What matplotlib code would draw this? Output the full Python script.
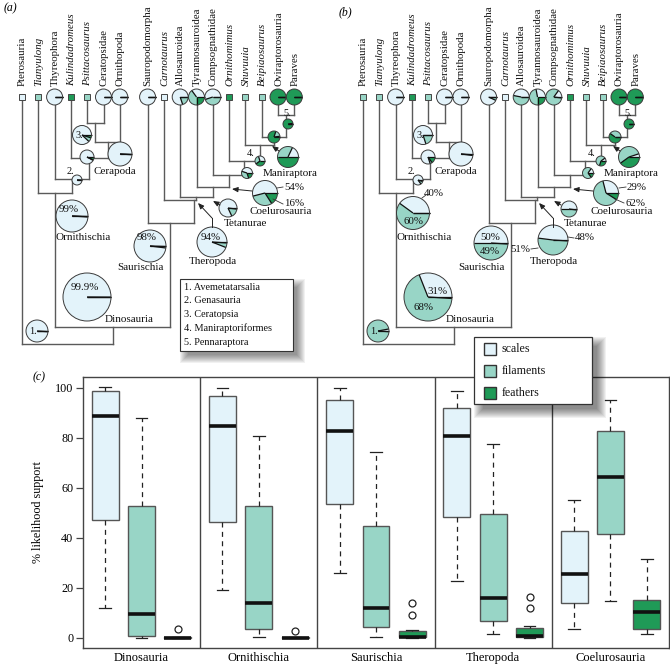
import numpy as np
import matplotlib
matplotlib.use('Agg')
import matplotlib.pyplot as plt
from matplotlib.patches import Wedge, Rectangle, Circle

plt.rcParams['font.family'] = ['Liberation Serif', 'DejaVu Serif']

# ---------------- data ----------------
taxa = ['Pterosauria', 'Tianyulong', 'Thyreophora', 'Kulindadromeus', 'Psittacosaurus',
        'Ceratopsidae', 'Ornithopoda', 'Sauropodomorpha', 'Carnotaurus', 'Allosauroidea',
        'Tyrannosauroidea', 'Compsognathidae', 'Ornithomimus', 'Shuvuuia', 'Beipiaosaurus',
        'Oviraptorosauria', 'Paraves']
italic_taxa = ['Tianyulong', 'Kulindadromeus', 'Psittacosaurus', 'Carnotaurus',
               'Ornithomimus', 'Shuvuuia', 'Beipiaosaurus']
# coded tip state: 0 scales, 1 filaments, 2 feathers, -1 estimated (pie)
tip_state_a = [0, 1, -1, 2, 1, -1, -1, -1, 0, -1, -1, -1, 2, 1, 1, -1, -1]
tip_state_b = [1, 1, -1, 2, 1, -1, -1, -1, 0, -1, -1, -1, 2, 1, 1, -1, -1]

tip_pie_taxa = ['Thyreophora', 'Ceratopsidae', 'Ornithopoda', 'Sauropodomorpha', 'Allosauroidea',
                'Tyrannosauroidea', 'Compsognathidae', 'Oviraptorosauria', 'Paraves']
tip_scales_a = [1.00, 1.00, 1.00, 1.00, 0.80, 0.35, 0.55, 0.00, 0.00]
tip_fil_a    = [0.00, 0.00, 0.00, 0.00, 0.20, 0.40, 0.45, 0.00, 0.00]
tip_fea_a    = [0.00, 0.00, 0.00, 0.00, 0.00, 0.25, 0.00, 1.00, 1.00]
tip_scales_b = [1.00, 1.00, 1.00, 0.93, 0.47, 0.28, 0.15, 0.00, 0.00]
tip_fil_b    = [0.00, 0.00, 0.00, 0.07, 0.53, 0.47, 0.83, 0.00, 0.00]
tip_fea_b    = [0.00, 0.00, 0.00, 0.00, 0.00, 0.25, 0.02, 1.00, 1.00]

# internal nodes in post-order
node_names = ['Ceratopsia', 'Cerapoda', 'Neornithischia', 'Genasauria', 'Ornithischia',
              'Pennaraptora', 'NBP', 'Maniraptora', 'Maniraptoriformes', 'NC', 'Coelurosauria',
              'Tetanurae', 'Theropoda', 'Saurischia', 'Dinosauria', 'Avemetatarsalia']
node_children = {
    'Ceratopsia': ['Psittacosaurus', 'Ceratopsidae'],
    'Cerapoda': ['Ceratopsia', 'Ornithopoda'],
    'Neornithischia': ['Kulindadromeus', 'Cerapoda'],
    'Genasauria': ['Thyreophora', 'Neornithischia'],
    'Ornithischia': ['Tianyulong', 'Genasauria'],
    'Pennaraptora': ['Oviraptorosauria', 'Paraves'],
    'NBP': ['Beipiaosaurus', 'Pennaraptora'],
    'Maniraptora': ['Shuvuuia', 'NBP'],
    'Maniraptoriformes': ['Ornithomimus', 'Maniraptora'],
    'NC': ['Compsognathidae', 'Maniraptoriformes'],
    'Coelurosauria': ['Tyrannosauroidea', 'NC'],
    'Tetanurae': ['Allosauroidea', 'Coelurosauria'],
    'Theropoda': ['Carnotaurus', 'Tetanurae'],
    'Saurischia': ['Sauropodomorpha', 'Theropoda'],
    'Dinosauria': ['Ornithischia', 'Saurischia'],
    'Avemetatarsalia': ['Pterosauria', 'Dinosauria'],
}
#                 Cerat Cerap Neorn Genas Ornit Penna NBP   Mani  Manif NC    Coelu Tetan Thero Sauri Dino   Avem
node_scales_a = [0.88, 0.99, 0.92, 0.99, 0.99, 0.00, 0.02, 0.18, 0.30, 0.45, 0.54, 0.82, 0.94, 0.98, 0.999, 0.99]
node_fil_a    = [0.07, 0.005, 0.01, 0.005, 0.005, 0.02, 0.18, 0.32, 0.30, 0.35, 0.30, 0.16, 0.05, 0.015, 0.001, 0.01]
node_fea_a    = [0.05, 0.005, 0.07, 0.005, 0.005, 0.98, 0.80, 0.50, 0.40, 0.20, 0.16, 0.02, 0.01, 0.005, 0.0, 0.0]
node_scales_b = [0.80, 0.98, 0.80, 0.85, 0.40, 0.00, 0.00, 0.05, 0.10, 0.15, 0.29, 0.50, 0.48, 0.50, 0.31, 0.03]
node_fil_b    = [0.20, 0.01, 0.05, 0.10, 0.60, 0.00, 0.40, 0.55, 0.60, 0.70, 0.62, 0.48, 0.51, 0.49, 0.68, 0.96]
node_fea_b    = [0.00, 0.01, 0.15, 0.05, 0.00, 1.00, 0.60, 0.40, 0.30, 0.15, 0.09, 0.02, 0.01, 0.01, 0.01, 0.01]

key_numbers = ['1. Avemetatarsalia', '2. Genasauria', '3. Ceratopsia',
               '4. Maniraptoriformes', '5. Pennaraptora']

# panel (c) box plot data: [whislo, q1, med, q3, whishi]
groups = ['Dinosauria', 'Ornithischia', 'Saurischia', 'Theropoda', 'Coelurosauria']
series = ['scales', 'filaments', 'feathers']
scales_stats = [[12.0, 47.3, 89.0, 99.0, 100.3], [19.2, 46.5, 84.7, 97.0, 100.0],
                [26.0, 53.6, 83.0, 95.2, 100.0], [22.8, 48.6, 80.9, 91.9, 98.8],
                [3.6, 14.1, 25.5, 42.8, 55.4]]
filaments_stats = [[0.2, 0.7, 9.6, 52.7, 88.0], [0.4, 3.5, 14.0, 53.0, 81.0],
                   [0.4, 4.4, 12.0, 45.0, 74.5], [1.5, 7.0, 15.9, 49.8, 77.6],
                   [15.0, 41.7, 64.3, 82.9, 95.2]]
feathers_stats = [[0.0, 0.0, 0.2, 0.5, 0.6], [0.0, 0.0, 0.2, 0.5, 0.6],
                  [0.0, 0.3, 0.5, 2.7, 3.3], [0.0, 0.3, 0.7, 3.9, 4.7],
                  [1.5, 3.6, 10.6, 15.1, 31.5]]
feathers_out = [[3.5], [2.9], [9.4, 14.0], [12.0, 16.6], []]
scales_out = [[], [], [], [], []]
filaments_out = [[], [], [], [], []]

# ---------------- style / layout ----------------
C_SC, C_FI, C_FE = '#e3f3fa', '#98d5c6', '#1f9a57'
COLORS = [C_SC, C_FI, C_FE]
LINE = '#5a5a5a'
TIP_X0, TIP_STEP, TIP_GAP, TIP_Y = 22, 16.3, 11.5, 97
DX_B = 341
FS_TIP, FS_CLADE, FS_PCT = 7.8, 8.0, 7.8
node_y = {'Ceratopsia': 123, 'Cerapoda': 142, 'Neornithischia': 158, 'Genasauria': 179,
          'Ornithischia': 193, 'Pennaraptora': 115, 'NBP': 137, 'Maniraptora': 145,
          'Maniraptoriformes': 161, 'NC': 175, 'Coelurosauria': 187, 'Tetanurae': 197,
          'Theropoda': 200, 'Saurischia': 223, 'Dinosauria': 327, 'Avemetatarsalia': 344}
node_x_override = {'Theropoda': 194, 'Saurischia': 170}
pie_pos = {'Avemetatarsalia': (37, 331, 11), 'Genasauria': (77, 180, 5),
           'Ceratopsia': (82, 135, 9.5), 'Neornithischia': (87, 157, 7),
           'Cerapoda': (120, 154, 12), 'Ornithischia': (72, 216, 16),
           'Dinosauria': (87, 297, 24), 'Saurischia': (150, 246, 16),
           'Theropoda': (212, 242, 15), 'Tetanurae': (228, 208, 9),
           'Coelurosauria': (265, 193, 12.5), 'NC': (247, 173, 5.5),
           'Maniraptoriformes': (260, 161, 5), 'Maniraptora': (288, 157, 10.5),
           'NBP': (274, 137, 6), 'Pennaraptora': (288, 124, 5)}
pie_pos_b = dict(pie_pos)
pie_pos_b.update({'Ornithischia': (72, 213, 16.5), 'Saurischia': (150, 243, 17),
                  'Theropoda': (212, 240, 15), 'Tetanurae': (228, 209, 8)})

fig = plt.figure(figsize=(6.7, 6.71), dpi=100)

# ---------------- panel (c) ----------------
L, R, T, B = 83, 669, 377, 648
axb = fig.add_axes([L / 670, 1 - B / 671, (R - L) / 670, (B - T) / 671])
all_stats = [scales_stats, filaments_stats, feathers_stats]
all_out = [scales_out, filaments_out, feathers_out]
offsets = [-0.31, 0.0, 0.31]
for s in range(3):
    st = []
    for g in range(5):
        lo, q1, med, q3, hi = all_stats[s][g]
        st.append(dict(whislo=lo, q1=q1, med=med, q3=q3, whishi=hi, fliers=all_out[s][g]))
    axb.bxp(st, positions=[g + offsets[s] for g in range(5)], widths=0.23,
            patch_artist=True, showfliers=True, capwidths=0.1,
            boxprops=dict(facecolor=COLORS[s], edgecolor='#555555', linewidth=1.0),
            medianprops=dict(color='#111111', linewidth=2.6, solid_capstyle='butt'),
            whiskerprops=dict(color='#222222', linestyle=(0, (4, 3.5)), linewidth=0.9),
            capprops=dict(color='#222222', linewidth=0.9),
            flierprops=dict(marker='o', markerfacecolor='none', markeredgecolor='#222222',
                            markersize=5, markeredgewidth=0.9))
for g in range(4):
    axb.axvline(g + 0.5, color='#444444', lw=1.0)
axb.set_xlim(-0.5, 4.5)
axb.set_ylim(-4, 104.4)
axb.set_xticks(range(5))
axb.set_xticklabels(groups, fontsize=9)
axb.tick_params(axis='x', length=0, pad=3)
axb.set_yticks([0, 20, 40, 60, 80, 100])
axb.tick_params(axis='y', length=5, width=0.9, labelsize=8.7, color='#444444', pad=2)
for sp in axb.spines.values():
    sp.set_color('#444444')
    sp.set_linewidth(1.0)
axb.set_ylabel('% likelihood support', fontsize=8.7, labelpad=8)

# ---------------- overlay for trees ----------------
ax = fig.add_axes([0, 0, 1, 1], zorder=5)
ax.set_xlim(0, 670)
ax.set_ylim(671, 0)
ax.axis('off')


def draw_pie(cx, cy, r, fr, z=4):
    fr = np.asarray(fr, float)
    fr = fr / fr.sum()
    ang = np.concatenate([[0], np.cumsum(fr) * 360])
    for k in range(3):
        a1, a2 = ang[k], ang[k + 1]
        if a2 - a1 <= 0:
            continue
        ax.add_patch(Wedge((cx, cy), r, -a2, -a1, facecolor=COLORS[k], edgecolor='none',
                           zorder=z))
    for a in ang[:-1]:
        t = np.deg2rad(a)
        ax.plot([cx, cx + r * np.cos(t)], [cy, cy - r * np.sin(t)], color='#111111',
                lw=0.9, zorder=z + 0.1, solid_capstyle='butt')
    ax.add_patch(Circle((cx, cy), r, facecolor='none', edgecolor='#3a3a3a', lw=0.7,
                        zorder=z + 0.2))


def shadow(x0, y0, x1, y1, off=6, n=9):
    for e in range(n):
        ax.add_patch(Rectangle((x0 + off - e + 2, y0 + off - e + 2),
                               (x1 - x0) + 2 * e - 4, (y1 - y0) + 2 * e - 4,
                               facecolor='#000000', alpha=0.055, edgecolor='none', zorder=7))


def arrow(x0, y0, x1, y1):
    ax.annotate('', xy=(x1, y1), xytext=(x0, y0),
                arrowprops=dict(arrowstyle='-|>,head_length=0.35,head_width=0.15',
                                color='#222222', lw=0.7, shrinkA=0, shrinkB=0), zorder=6)


def draw_tree(dx, tip_state, tsc, tfi, tfe, nsc, nfi, nfe, ppos):
    pos = {}
    for i, t in enumerate(taxa):
        pos[t] = dx + TIP_X0 + TIP_STEP * i + (TIP_GAP if i >= 7 else 0)
    for n in node_names:
        if n in node_x_override:
            pos[n] = dx + node_x_override[n]
        else:
            pos[n] = np.mean([pos[c] for c in node_children[n]])
    tip_is_pie = {t: tip_state[i] < 0 for i, t in enumerate(taxa)}
    # branches
    for n in node_names:
        y = node_y[n]
        xs = [pos[c] for c in node_children[n]]
        ax.plot([min(xs), max(xs)], [y, y], color=LINE, lw=1.0, zorder=2,
                solid_capstyle='projecting')
        for c in node_children[n]:
            if c in node_y:
                ytop = node_y[c]
            else:
                ytop = TIP_Y + (8 if tip_is_pie[c] else 3)
            ax.plot([pos[c], pos[c]], [ytop, y], color=LINE, lw=1.0, zorder=2,
                    solid_capstyle='projecting')
    # tips
    for i, t in enumerate(taxa):
        x = pos[t]
        if tip_state[i] >= 0:
            ax.add_patch(Rectangle((x - 3, TIP_Y - 3), 6, 6, facecolor=COLORS[tip_state[i]],
                                   edgecolor='#444444', lw=0.7, zorder=4))
        else:
            j = tip_pie_taxa.index(t)
            draw_pie(x, TIP_Y, 8, [tsc[j], tfi[j], tfe[j]])
        ax.text(x + 0.5, 86, t, rotation=90, rotation_mode='anchor', ha='left', va='center',
                fontsize=FS_TIP, style='italic' if t in italic_taxa else 'normal',
                color='#111111')
    # node pies
    for k, n in enumerate(node_names):
        cx, cy, r = ppos[n]
        draw_pie(cx + dx, cy, r, [nsc[k], nfi[k], nfe[k]])
    return pos


def txt(x, y, s, fs=FS_CLADE, ha='center', **kw):
    ax.text(x, y, s, fontsize=fs, ha=ha, va='center', color='#111111', zorder=8, **kw)


for panel, dx in (('a', 0), ('b', DX_B)):
    if panel == 'a':
        draw_tree(dx, tip_state_a, tip_scales_a, tip_fil_a, tip_fea_a,
                  node_scales_a, node_fil_a, node_fea_a, pie_pos)
    else:
        draw_tree(dx, tip_state_b, tip_scales_b, tip_fil_b, tip_fea_b,
                  node_scales_b, node_fil_b, node_fea_b, pie_pos_b)
    # clade labels
    txt(dx + 115, 172, 'Cerapoda')
    txt(dx + 83, 237, 'Ornithischia')
    txt(dx + 140, 268, 'Saurischia')
    txt(dx + 129, 319, 'Dinosauria')
    txt(dx + 213, 262, 'Theropoda')
    txt(dx + 245, 224, 'Tetanurae')
    txt(dx + 281, 212, 'Coelurosauria')
    txt(dx + 290, 174, 'Maniraptora')
    # node numbers
    txt(dx + 33, 331, '1.', fs=7.4)
    txt(dx + 70, 172, '2.', fs=7.4)
    txt(dx + 79, 135, '3.', fs=7.4)
    txt(dx + 251, 153, '4.', fs=7.4)
    txt(dx + 287, 114, '5.', fs=7.4)
    # arrows
    arrow(dx + 279, 151, dx + 272, 146)
    arrow(dx + 252, 191, dx + 232, 189)
    arrow(dx + 220, 205, dx + 213, 201)
    ax.plot([dx + 212, dx + 212], [227, 218], color='#222222', lw=0.7, zorder=6)
    arrow(dx + 212, 218, dx + 198, 203)

# percentages panel (a)
txt(85, 287, '99.9%', fs=FS_PCT)
txt(69, 209, '99%', fs=FS_PCT)
txt(147, 237, '98%', fs=FS_PCT)
txt(211, 237, '94%', fs=FS_PCT)
txt(284, 187, '54%', fs=FS_PCT, ha='left')
txt(284, 204, '16%', fs=FS_PCT, ha='left')
ax.plot([277, 283], [188, 187], color='#333333', lw=0.6, zorder=6)
ax.plot([273, 283], [199, 204], color='#333333', lw=0.6, zorder=6)
# percentages panel (b)
txt(434, 194, '40%', fs=FS_PCT)
ax.plot([422, 426], [198, 195], color='#333333', lw=0.6, zorder=6)
txt(413, 221, '60%', fs=FS_PCT)
txt(438, 292, '31%', fs=FS_PCT)
txt(423, 308, '68%', fs=FS_PCT)
txt(490, 237, '50%', fs=FS_PCT)
txt(490, 251, '49%', fs=FS_PCT)
txt(575, 238, '48%', fs=FS_PCT, ha='left')
ax.plot([568, 574], [237, 238], color='#333333', lw=0.6, zorder=6)
txt(530, 249, '51%', fs=FS_PCT, ha='right')
ax.plot([531, 538], [249, 248], color='#333333', lw=0.6, zorder=6)
txt(627, 187, '29%', fs=FS_PCT, ha='left')
ax.plot([619, 626], [188, 187], color='#333333', lw=0.6, zorder=6)
txt(625, 203, '62%', fs=FS_PCT, ha='left')
ax.plot([615, 624], [199, 203], color='#333333', lw=0.6, zorder=6)

# key box panel (a)
kx0, ky0, kx1, ky1 = 180, 279, 293, 351
shadow(kx0, ky0, kx1, ky1)
ax.add_patch(Rectangle((kx0, ky0), kx1 - kx0, ky1 - ky0, facecolor='white', edgecolor='#333333',
                       lw=0.8, zorder=8))
for i, s in enumerate(key_numbers):
    ax.text(kx0 + 4, 287 + 13.8 * i, s, fontsize=7.4, ha='left', va='center', zorder=9,
            color='#111111')

# legend panel (c)
lx0, ly0, lx1, ly1 = 474, 337, 592, 404
shadow(lx0, ly0, lx1, ly1, off=7, n=10)
ax.add_patch(Rectangle((lx0, ly0), lx1 - lx0, ly1 - ly0, facecolor='white', edgecolor='#333333',
                       lw=0.9, zorder=8))
for i, s in enumerate(series):
    yy = 349 + 22 * i
    ax.add_patch(Rectangle((484, yy - 6), 12, 12, facecolor=COLORS[i], edgecolor='#333333',
                           lw=1.0, zorder=9))
    ax.text(502, yy, s, fontsize=8.6, ha='left', va='center', zorder=9, color='#111111')

# panel letters
ax.text(4, 8, '(a)', fontsize=8.5, style='italic', ha='left', va='center')
ax.text(339, 12, '(b)', fontsize=8.5, style='italic', ha='left', va='center')
ax.text(33, 377, '(c)', fontsize=8.5, style='italic', ha='left', va='center')

fig.savefig('out.png', dpi=100)
